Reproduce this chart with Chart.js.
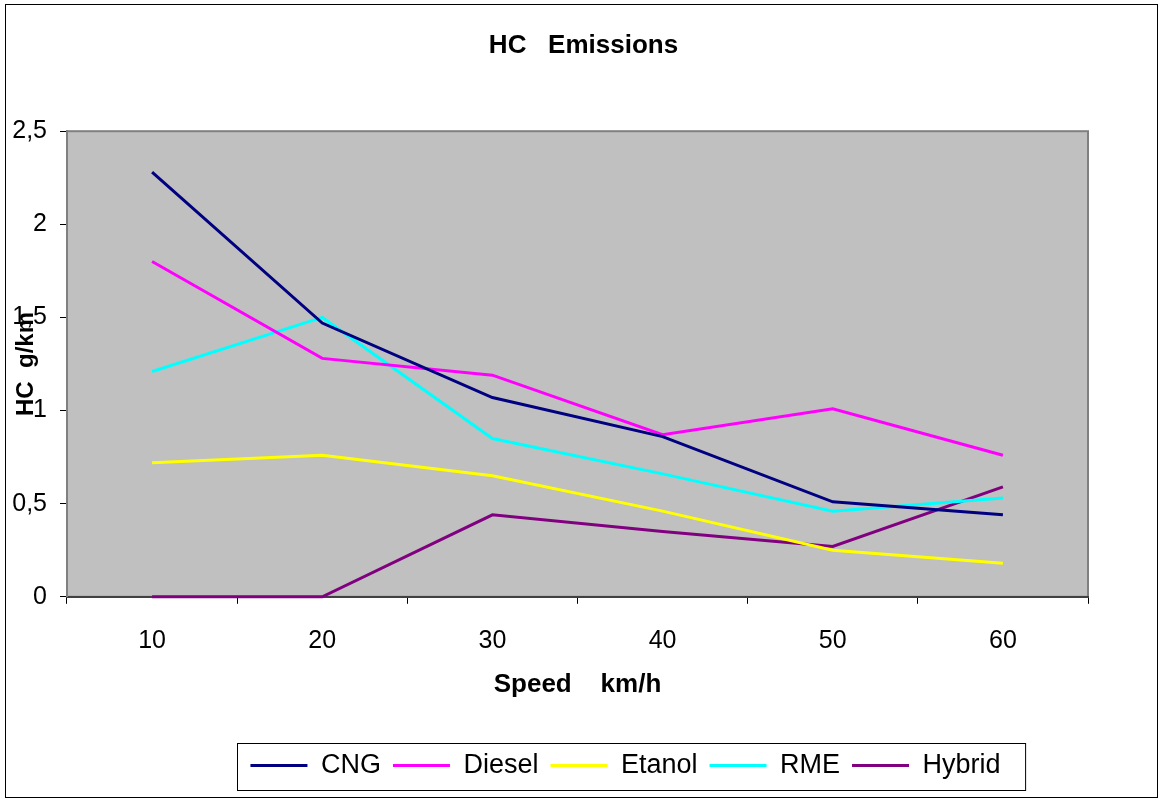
<!DOCTYPE html>
<html>
<head>
<meta charset="utf-8">
<script src="https://cdn.jsdelivr.net/npm/chart.js@4/dist/chart.umd.min.js"></script>
<style>
  body { margin: 0; background: #fff; }
  #wrap { width: 1161px; height: 800px; position: relative; }
</style>
</head>
<body>
<div id="wrap"><canvas id="myChart"></canvas></div>
<script>
// data
const speeds = ['10', '20', '30', '40', '50', '60'];
const cng = [2.28, 1.47, 1.07, 0.86, 0.51, 0.44];
const diesel = [1.80, 1.28, 1.19, 0.87, 1.01, 0.76];
const etanol = [0.72, 0.76, 0.65, 0.46, 0.25, 0.18];
const rme = [1.21, 1.50, 0.85, 0.66, 0.46, 0.53];
const hybrid = [0, 0, 0.44, 0.35, 0.27, 0.59];
const yTicks = [0, 0.5, 1, 1.5, 2, 2.5];

const font = '"Liberation Sans", Arial, sans-serif';
Chart.defaults.font.family = font;
Chart.defaults.color = '#000';

function line(label, data, color) {
    return {
        label: label,
        data: data,
        borderColor: color,
        backgroundColor: color,
        borderWidth: 3,
        pointRadius: 0,
        pointHoverRadius: 0,
        tension: 0,
        clip: false
    };
}

// white page, outer frame, grey plot area
const frame = {
    id: 'frame',
    beforeDraw(chart) {
        const c = chart.ctx;
        const a = chart.chartArea;
        c.save();
        c.fillStyle = '#fff';
        c.fillRect(0, 0, chart.width, chart.height);
        c.strokeStyle = '#000';
        c.lineWidth = 1;
        c.strokeRect(5.5, 4.5, 1152, 793);
        c.fillStyle = '#c0c0c0';
        c.fillRect(a.left, a.top, a.right - a.left, a.bottom - a.top);
        c.strokeStyle = '#808080';
        c.lineWidth = 2;
        c.strokeRect(a.left, a.top, a.right - a.left, a.bottom - a.top);
        c.restore();
    },
    afterLayout(chart) {
        // title and legend are not centred on the plot in the original
        chart.titleBlock.left += 36;
        chart.titleBlock.right += 36;
        chart.legend.left += 78;
        chart.legend.right += 78;
    },
    afterDraw(chart) {
        const boxes = chart.legend.legendHitBoxes;
        if (!boxes || !boxes.length) return;
        let x1 = Infinity, y1 = Infinity, x2 = -Infinity, y2 = -Infinity;
        boxes.forEach(b => {
            x1 = Math.min(x1, b.left);
            y1 = Math.min(y1, b.top);
            x2 = Math.max(x2, b.left + b.width);
            y2 = Math.max(y2, b.top + b.height);
        });
        const c = chart.ctx;
        c.save();
        c.strokeStyle = '#000';
        c.lineWidth = 1;
        c.strokeRect(Math.round(x1 - 13) + 0.5, Math.round(y1 - 9) + 0.5, x2 - x1 + 38, y2 - y1 + 20);
        c.restore();
    }
};

const ctx = document.getElementById('myChart');
new Chart(ctx, {
    type: 'line',
    data: {
        labels: speeds,
        datasets: [
            line('CNG', cng, '#000080'),
            line('Diesel', diesel, '#ff00ff'),
            line('Etanol', etanol, '#ffff00'),
            line('RME', rme, '#00ffff'),
            line('Hybrid', hybrid, '#800080')
        ]
    },
    plugins: [frame],
    options: {
        responsive: true,
        maintainAspectRatio: false,
        animation: false,
        layout: { padding: { top: 8, left: 7, right: 73, bottom: 11 } },
        plugins: {
            title: {
                display: true,
                text: 'HC   Emissions',
                font: { size: 26, weight: 'bold' },
                color: '#000',
                padding: { top: 22, bottom: 70 }
            },
            legend: {
                position: 'bottom',
                labels: {
                    usePointStyle: true,
                    pointStyle: 'line',
                    pointStyleWidth: 57,
                    boxHeight: 27,
                    font: { size: 27 },
                    padding: 12,
                    color: '#000'
                }
            },
            tooltip: { enabled: false }
        },
        scales: {
            x: {
                offset: true,
                grid: { offset: true, drawOnChartArea: false, tickLength: 7, color: '#000' },
                border: { color: '#404040', width: 2 },
                ticks: { font: { size: 25 }, padding: 22, maxRotation: 0 },
                title: {
                    display: true,
                    text: 'Speed    km/h',
                    font: { size: 26, weight: 'bold' },
                    padding: { top: -9, bottom: 40 }
                }
            },
            y: {
                min: 0,
                max: 2.5,
                afterBuildTicks: s => { s.ticks = yTicks.map(v => ({ value: v })); },
                afterFit: s => { s.width = 60; },
                grid: { drawOnChartArea: false, tickLength: 7, color: '#000' },
                border: { color: '#808080', width: 2 },
                ticks: {
                    font: { size: 25 },
                    padding: 13,
                    callback: v => String(v).replace('.', ',')
                },
                title: {
                    display: true,
                    text: 'HC  g/km',
                    font: { size: 24, weight: 'bold' },
                    padding: { top: 5 }
                }
            }
        }
    }
});
</script>
</body>
</html>
